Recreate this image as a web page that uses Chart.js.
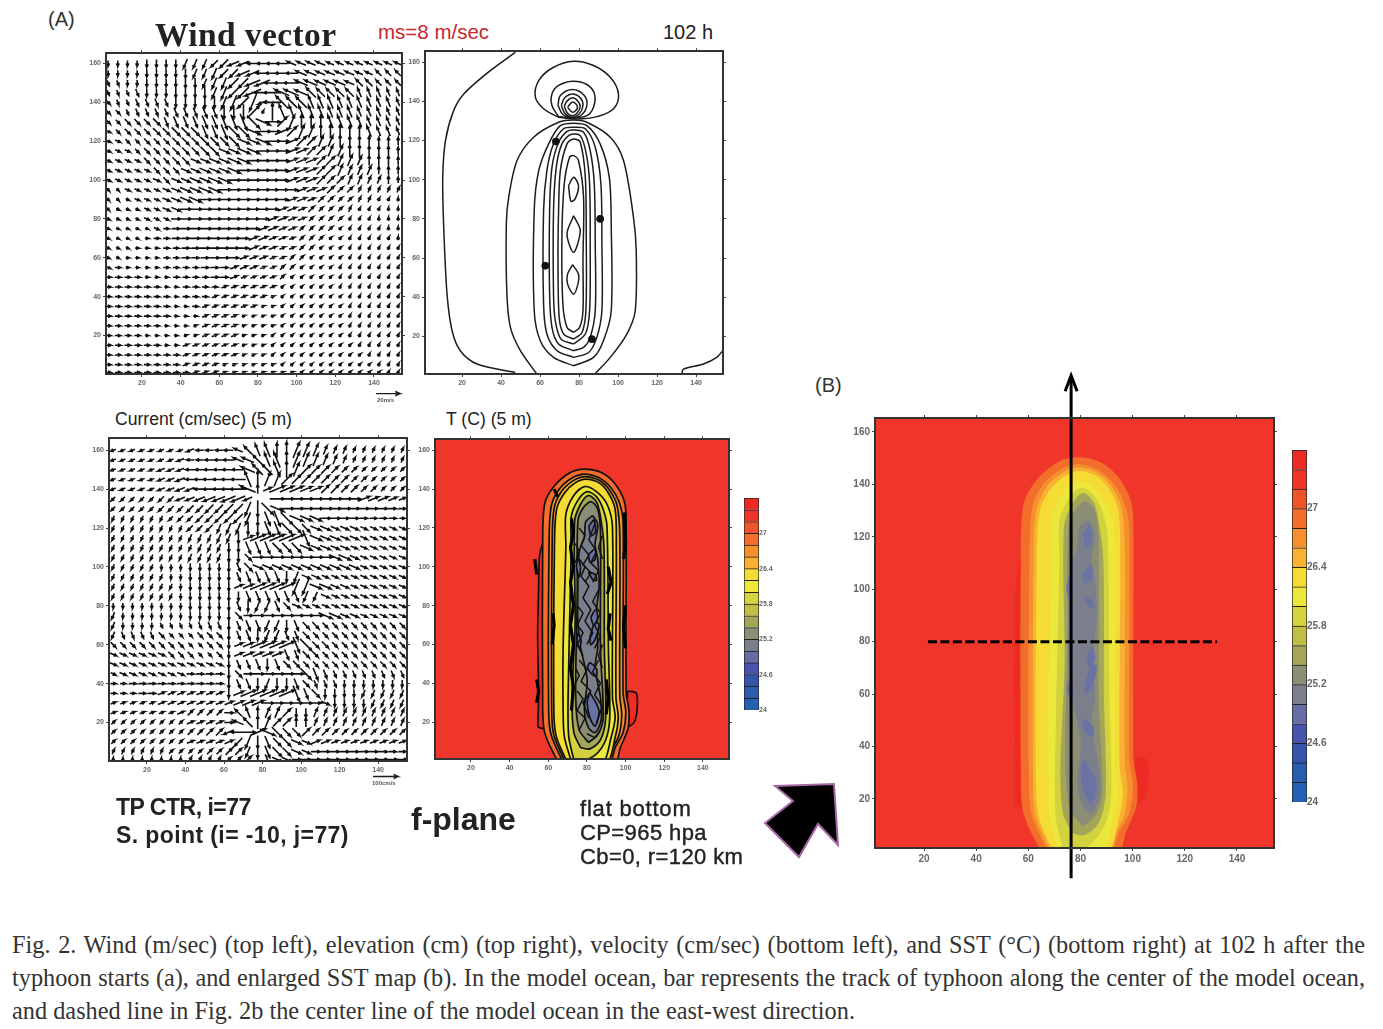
<!DOCTYPE html>
<html>
<head>
<meta charset="utf-8">
<title>Fig. 2</title>
<style>
html,body{margin:0;padding:0;background:#fff}
#page{position:relative;width:1383px;height:1029px;overflow:hidden;font-family:"Liberation Sans",sans-serif;color:#222}
#page canvas{position:absolute;filter:blur(.6px)}
.t{position:absolute;white-space:nowrap;line-height:1}
.tiny{font-size:6px;font-weight:bold;color:#555;filter:blur(.4px)}
.note{font-weight:bold;color:#222;filter:blur(.4px);transform-origin:0 0}
.cap{position:absolute;left:12px;width:1353px;margin:0;font:24.3px/1 "Liberation Serif",serif;color:#333;white-space:nowrap;text-align:justify;text-align-last:justify}
#bigArrow{position:absolute;left:760px;top:778px;filter:blur(.5px)}
</style>
<script src="https://cdn.jsdelivr.net/npm/chart.js@4"></script>
</head>
<body>
<div id="page">
  <div class="t" style="left:48px;top:9px;font-size:20px;color:#333">(A)</div>
  <div class="t" style="left:155px;top:16px;font:bold 33.5px 'Liberation Serif',serif;letter-spacing:.4px;color:#222;filter:blur(.4px)">Wind vector</div>
  <div class="t" style="left:378px;top:22px;font-size:20.5px;color:#c9252c">ms=8 m/sec</div>
  <div class="t" style="left:663px;top:22px;font-size:20px">102 h</div>
  <div class="t" style="left:115px;top:411px;font-size:17.6px">Current (cm/sec) (5 m)</div>
  <div class="t" style="left:446px;top:411px;font-size:17.6px">T (C) (5 m)</div>
  <div class="t" style="left:815px;top:375px;font-size:20px;color:#333">(B)</div>
  <div class="t tiny" style="left:377px;top:397px">20m/s</div>
  <div class="t tiny" style="left:372px;top:780px">100cm/s</div>
  <div class="t note" style="left:116px;top:796px;font-size:23px;letter-spacing:-.5px">TP CTR, i=77</div>
  <div class="t note" style="left:116px;top:824px;font-size:23px;letter-spacing:.4px">S. point (i= -10, j=77)</div>
  <div class="t note" style="left:411px;top:803px;font-size:32px">f-plane</div>
  <div class="t note" style="left:580px;top:798px;font-size:22px;font-weight:normal;-webkit-text-stroke:.4px #222;letter-spacing:.8px">flat bottom</div>
  <div class="t note" style="left:580px;top:822px;font-size:22px;font-weight:normal;-webkit-text-stroke:.4px #222;letter-spacing:.4px">CP=965 hpa</div>
  <div class="t note" style="left:580px;top:846px;font-size:22px;font-weight:normal;-webkit-text-stroke:.4px #222;letter-spacing:.4px">Cb=0, r=120 km</div>
  <svg id="bigArrow" width="90" height="90"><polygon points="15,8 74,6 78,67 58,46 39,79 5,45 33,23" fill="#000" stroke="#a768a8" stroke-width="2"/></svg>
  <p class="cap" style="top:933px">Fig. 2. Wind (m/sec) (top left), elevation (cm) (top right), velocity (cm/sec) (bottom left), and SST (°C) (bottom right) at 102 h after the</p>
  <p class="cap" style="top:966px">typhoon starts (a), and enlarged SST map (b). In the model ocean, bar represents the track of typhoon along the center of the model ocean,</p>
  <p class="cap" style="top:999px;width:843px">and dashed line in Fig. 2b the center line of the model ocean in the east-west direction.</p>
</div>
<script>
// grid of the vector panels
const gridX = [2.5,7.5,12.5,17.5,22.5,27.5,32.5,37.5,42.5,47.5,52.5,57.5,62.5,67.5,72.5,77.5,82.5,87.5,92.5,97.5,102.5,107.5,112.5,117.5,122.5,127.5,132.5,137.5,142.5,147.5,152.5];
const gridY = [160,155,150,145,140,135,130,125,120,115,110,105,100,95,90,85,80,75,70,65,60,55,50,45,40,35,30,25,20,15,10,5,1];

// direction code per grid cell: 16 sectors counter clockwise from east (0=E 4=N 8=W C=S)
const windDir = [
"CCCCCCCCBBBAA998888777777777777",
"CCCCCCCCCBBBAA99888877777777666",
"DDCCCCCCCCBBBAA9988877777766666",
"DDDDCCCCCCCBBAA9887776666655555",
"EDDDDDDCCCCCBBAB986665555555555",
"EEDDDDDDDDDDCCC2345555555555555",
"EEEEEEDDDDDDDDDEF02344455555555",
"FEEEEEEEEEDDDEEF001233444445555",
"FFEEEEEEEEEEEEFFF00122334444444",
"FFFEEEEEEEEEFFFF000112233444444",
"FFFFEEEEEFFFFFF0000111223334444",
"FFFFFEEEFFFFFF00000111223333444",
"FFFFFFEFFFFFF000000111222333344",
"EEFFFFFFFFFF0000000011122233333",
"EEFFFFFFFF000000000111222233334",
"EFFFFFFF00000000001112222333344",
"FFFFFFF000000000011112222333444",
"FFFFFF0000000000111122222333344",
"FFFF000000000001111122222333334",
"FFF0000000000001111122222333333",
"FF00000000000011111222222333333",
"F000000000000111112222223333333",
"0000000000000111112222223333333",
"0000000000001111112222223333333",
"0000000000011111112222222333333",
"0000000000111111112222222333333",
"0000000000111111112222222333333",
"0000000001111111112222222333333",
"0000000011111111122222222333333",
"0000000011111111122222222233333",
"0000000011111111122222222223333",
"0000000011111111112222222222333",
"0000000001111111111122222222233"
];
// arrow length digit per grid cell
const windLen = [
"3333444455556666666555544444444",
"3333444455566677777666555544444",
"3333444455566778888877666555444",
"3334444555667789998877666655544",
"3334444555667889599887776665554",
"3334444555667789298777766655544",
"3344455666778899887777777665554",
"3344455666778888888777777666554",
"3333444555666777887776666555444",
"3333444555666677777766666665554",
"3333444555566777777666666655554",
"3333344455666777766666666555444",
"3333344556677777766666655554443",
"2233334566777777766655554433333",
"2223334567777777666554443333222",
"2222334567777776665544333322222",
"2222333567777766655443333222222",
"2222233456777766554433332222222",
"2222233445666655544333322222222",
"2222223344555555443333222222222",
"2222223344455544433332222222222",
"3322223333444444333322222222222",
"3333222333344433333222222222222",
"3333332233333333332222222222222",
"3333333233333333322222222222222",
"3333333223333333222222222222222",
"3333333222333322222222222222222",
"3333332222333322222222222222222",
"3333222222333322222222222222222",
"3333332233333322222222222222222",
"3333333333333322222222222222222",
"3333333333332222222222222222222",
"3333333333332222222222222222222"
];
const currentDir = [
"9999999998888765544333333333333",
"9999999988888776554333333333333",
"9999999988888876654322222222222",
"9999999988888854332222222222222",
"9999999998888874111111222222222",
"AAAAAAA999999990000000000011111",
"AAAAAAAAAAAAAABCEF0000000000000",
"BBBBBBAAAAAAAABCDDEFFF000000000",
"BBBBBBBBAAABBBCCDDEEEFFFFFFFFFF",
"BBBBBBBBBBBBBC111111DFFFFFFFFFF",
"BBBBBBBBBBBBCCDDDEEEFFFFFFFFFFF",
"BBBBBBBBBBBBCCE00000000FFFFFFFF",
"BBBBBCCCCCCCCDEFFFFFFFFFFFFFFFF",
"BBBBBBCCCCCCCDDDDDCBFFFFFFFFFFF",
"BBBBBBBCCCCCC111111BBFFFFFFFFFF",
"BBBBBBBCCCCCCCDDDDDDBBFFFFFFFFF",
"CCCCCCCCCCCCCDCBBDEFFFFFFFFFFFF",
"BCCCCCCCCCCCCE00000000FFFFFFFFF",
"BCCCCDDDDDDDCDDDBBCDEEEEEEEEEEE",
"BDDDDEEEEEEECDDCBBDDEEEEEEEEEEE",
"EEEEEEEEEEEEC111111DEEEEEEEEEEE",
"FFFFFFEEEEEEC11111DDEEEEEEEEEEE",
"FFFFFFFFFFFFCDDDCDEEEEEEEEEEEEE",
"FFFFFFFF0000CE000000EDDDDDDDDDD",
"000000000000CDDCBCCDEDDDCCCCCCC",
"000001111111C111111DDECCCCBBBBB",
"1111111111111111000000FCCCCBBBB",
"1111111122220654332CC3333333333",
"2222222211110764322443333333333",
"2222222222229801FEEE22222222222",
"2222222211111ABCDEEFF1111111111",
"33333322222222BCDEEFF0000000000",
"444444443333222CDFF000000000000"
];
const currentLen = [
"3333333344445567889987544333333",
"3333333444556677899987654333333",
"3333344455667788899876654433333",
"3333344556778899888776655443333",
"3333344556778995598877665544333",
"3333344556778850088888888776654",
"3333344455667789988888877665544",
"3333333445566778899877665544443",
"3333333344556678888766655544444",
"3333333344455669999997665544444",
"3333333334445577777776655444444",
"3333333344445556788888877544444",
"3333333344445566666666666644444",
"3333333344444566666655444444444",
"3333333344445569999997755444444",
"3333333344445566666665544444444",
"3333333344445566665544444444444",
"4333333344445557888888875544444",
"4333333334445566666655444444444",
"4444443334445566665554444444444",
"4444444433444569999995544444444",
"4444444443344566666554444444444",
"4444444444444556665544444444444",
"3444444444445557888887544444444",
"3344444444445566666654444444444",
"3334444444445699999966554444444",
"3333344444445677777776544444444",
"3333333444445566666555444444444",
"3333333344445677766554444444444",
"3333333344556889986665544444444",
"3333333344445677766655544444444",
"3333333333445567776655555555544",
"2222222233333456666555555555555"
];
const windRef = [[141,-9.9],[153.5,-9.9],[151,-8.8],[153.5,-9.9],[151,-11]];
const currentRef = [[137.4,-7.8],[150.4,-7.8],[148,-6.7],[150.4,-7.8],[148,-8.9]];

// elevation contours
const elevOpenLeft = [[47.3,165],[34.5,155.7],[20.9,143.8],[15.7,135.3],[11.5,120],[10.1,101.2],[10.6,75.7],[12.3,41.6],[14.9,22.9],[19.1,12.7],[27.7,5.9],[47.3,1.6]];
const elevOpenOval = [[58.1,1.1],[49.9,12.7],[44.8,24.6],[43,41.6],[42.7,77.4],[43.9,91],[48.2,109.8],[56.7,121.7],[69.5,129.3],[77.2,130.5],[84,129.3],[96,121.7],[102.8,109.8],[107.9,80.8],[109.3,63.8],[108.8,33.1],[104.5,21.2],[96,9.3],[88.3,1.1]];
const elevOpenCorner = [[132.7,1.1],[133.5,3.3],[143.8,5.9],[150.6,9.3],[153.7,12.7]];
const elevLobes = [
  [[69.4,131.9],[61.8,136.2],[57.6,142.1],[59.3,150.6],[66.9,157.4],[77.2,160.5],[87.4,158.3],[96,152.3],[100.2,143.8],[97.7,136.2],[89.1,132.2],[78.4,131]],
  [[69.5,132.2],[66.1,137.9],[66.1,143.8],[69.5,148.1],[76.7,150.3],[84,148.6],[87.9,143.8],[87.4,137],[84,132.7],[76.7,131.6]],
  [[69.2,137.9],[70.4,143],[76.7,146],[82.7,143],[84,137.9],[81.5,133.3],[76.7,131.6],[71.7,133.3]],
  [[70.9,137.9],[72.6,141.8],[76.7,143.8],[80.6,141.8],[82,137.9],[80.1,133.6],[76.7,131.9],[72.9,133.6]],
  [[72.4,137.4],[73.8,140.1],[76.7,141.8],[79.4,140.1],[80.6,137.4],[78.9,133.9],[76.7,132.6],[74.1,133.9]],
  [[74.1,137],[76.7,139.7],[79.2,137],[76.7,134.4]]
];
const elevOvals = [
  [[77.2,5],[66.9,9.3],[60.1,17.8],[57,33.1],[57,84.2],[59.3,104.6],[64.4,118.3],[70.4,127.6],[77.2,128.8],[84,127.6],[90.8,118.3],[95.5,101.2],[96.5,75.7],[96.5,33.1],[92.5,17.8],[87.4,9.3]],
  [[77.2,9.3],[68.7,12.7],[63.5,21.2],[61.8,36.5],[61.8,84.2],[63.5,104.6],[66.9,118.3],[72,126],[77.2,126.8],[83.2,126],[88.3,116.6],[91.2,97.8],[91.7,67.2],[91.7,33.1],[89.1,19.5],[84.9,11.8]],
  [[77.2,12.7],[69.5,16.1],[66.1,24.6],[64.9,41.6],[64.9,84.2],[66.1,106.3],[69.5,119.1],[73.8,124.7],[77.2,125.4],[82.3,124.2],[85.7,114.9],[87.8,97.8],[88.3,67.2],[88.3,33.1],[85.7,19.5],[82.3,14.4]],
  [[77.2,16.1],[70.7,18.6],[67.8,28],[66.9,41.6],[66.9,84.2],[68.3,106.3],[71.2,118.3],[75.5,123],[80.6,122.5],[83.7,113.2],[85.4,97.8],[85.7,67.2],[85.4,33.1],[83.2,21.2]],
  [[77.2,18.6],[72.1,21.2],[69.8,29.7],[69.2,58.7],[69.5,84.2],[70.4,104.6],[73.8,118.3],[77.2,120.8],[80.6,119.1],[83.2,101.2],[83.7,67.2],[83.5,33.1],[81.5,22]],
  [[77.2,22],[73.8,24.6],[71.7,36.5],[71.2,70.6],[72.4,97.8],[75.1,111.5],[77.2,112.3],[79.7,109.8],[82.3,91],[82,58.7],[82,33.1],[80.3,24.6]],
  [[74.6,97],[77.2,101.2],[79.7,97],[78,90.2],[75.8,89]],
  [[77.2,81.6],[80.6,74],[77.2,62.9],[73.8,72.3]],
  [[76.7,56.6],[79.7,51.8],[79.4,46.7],[77.2,41.6],[74.1,46.7],[74.1,51.8]]
];
const elevDots = [[68.1,119.5],[90.8,80],[62.7,56.1],[86.6,18.6]];

// SST colour scale, low to high
const sstLevels = [24,24.2,24.4,24.6,24.8,25,25.2,25.4,25.6,25.8,26,26.2,26.4,26.6,26.8,27,27.2,27.4,27.6];
const sstTicks = [24,24.6,25.2,25.8,26.4,27];
const sstColors = ['#2560b4','#2a5cb0','#3555ad','#4655ab','#676ca4','#7b7f8c','#8b8e74','#a5a55a','#bfbf45','#d5d43d','#ebe83b','#f4dc35','#f8b131','#f68f2d','#f36e2b','#f15427','#ef3528','#ee2a25'];

// SST contours, outer to inner, and the colour inside each
const sstDomain = [[0,0],[156,0],[156,168],[0,168]];
const sstStripLeft = [[54.6,17.4],[55,35],[54.5,65],[55,88],[55.5,106],[57.5,112],[58,17]];
const sstStripRight = [[101,36],[105.5,35],[106,27],[104.5,20],[101,18]];
const sstBand1 = [[65.7,-2],[58.1,14.7],[57.1,32.7],[57.1,110.3],[58.1,132.2],[62.9,141.3],[71.2,148.4],[78.7,150.3],[87.7,148.4],[94.6,142.6],[99.4,133.5],[100.3,123.2],[100.3,35.3],[101.7,26.3],[101.4,17.2],[97.3,6.9],[93.9,-2]];
const sstBand2 = [[68.4,-2],[61.5,13.4],[60.2,26.3],[60.4,110.3],[61.5,130.9],[65.7,140],[72.5,145.8],[78.7,147.7],[86.3,145.8],[92.5,140.6],[96.6,133.5],[98.7,123.2],[98.7,35.3],[100.1,25],[98.7,14.7],[94.6,6.9],[91.1,-2]];
const sstBand2b = [[69.5,-2],[63,12.8],[61.8,25.5],[62,110.3],[63,130],[67,139],[73.2,144.5],[79,146.4],[86.3,144.5],[91.8,139.3],[95.6,131.5],[97,116],[97,34],[98,23.5],[96.6,13.4],[92,4],[90.4,-2]];
const sstBand3 = [[70.5,-2],[64.3,12.1],[62.9,25],[63.2,110.3],[64.3,129.6],[68.4,138],[73.9,143.2],[79.4,145.1],[86.3,143.2],[91.1,138],[94.6,129.6],[95.2,110.3],[95,32.7],[96.2,22.4],[94.6,12.1],[89.7,-2]];
const sstBand4 = [[72.5,-2],[68.4,12.1],[67.7,25],[67.7,58.6],[69.1,110.3],[69.1,127],[73.2,136.7],[78.7,141.3],[84.9,138.7],[90.4,132.2],[93.2,120.6],[93.2,32.7],[94.6,22.4],[92.5,12.1],[87.7,-2]];
const sstBand5 = [[73.9,-2],[70.5,13.4],[70.5,45.7],[71.9,110.3],[71.9,125.8],[75.3,134.2],[80.1,138.7],[84.9,136.1],[88.4,129.6],[90.4,120.6],[91.1,58.6],[91.8,22.4],[89.7,10.8],[84.2,3]];
const sstBand6 = [[76.7,6.9],[73.2,14.7],[72.3,32.7],[73.9,71.5],[73.6,123.2],[76.7,132.2],[80.8,136.7],[84.9,133.5],[87,125.8],[88.8,110.3],[89,58.6],[89.7,22.4],[87,10.8],[81.5,6.2]];
const sstBand7 = [[80.8,9.5],[76,16],[74.2,32.7],[75,84.4],[75.3,123.2],[78,130.3],[82.2,133.5],[85.6,129.6],[87,118],[87,58.6],[88.4,22.4],[85.6,13.4]];
const sstBand8 = [[82.9,126.4],[85.6,121.9],[84.2,111.5],[85.6,103.8],[86.3,89.6],[84.9,76.7],[85.6,58.6],[84.2,48.2],[87,32.7],[87.4,21.1],[84.2,14.6],[80.8,17.2],[78.7,26.3],[80.1,41.8],[76.7,58.6],[75.3,71.5],[75.3,89.6],[76,107.7],[78.7,115.4],[79.4,123.2]];
const sstBlobs = [
  [[81.5,35.3],[84.9,29.5],[86.3,25],[84.2,17.9],[81.5,22.4],[80.1,30.2]],
  [[81.5,50.8],[84.9,47.6],[84.9,43.7],[82.9,44.4],[80.3,48.2]],
  [[81.5,63.7],[84.2,71.5],[86.3,70.2],[84.2,62.5],[82,59.9]],
  [[82,74],[84.6,78],[85.5,73],[83.4,70]],
  [[80.8,97.3],[84.2,96],[85,93],[82.9,93.5]],
  [[80.8,106.4],[84.2,109],[84.2,103.8],[81.5,102.5]],
  [[81,121],[83.6,124],[84.4,118],[82,116]],
  [[75.3,105],[76.7,100],[76,94.8],[74.6,100]],
  [[75.5,66],[77,62],[76,58],[74.8,62]]
];
const sstBands = [sstStripLeft,sstStripRight,sstBand1,sstBand2,sstBand2b,sstBand3,sstBand4,sstBand5,sstBand6,sstBand7,sstBand8];
const sstBandColors = ['#ee2a25','#ee2a25','#f36e2b','#f68f2d','#f8b131','#f4dc35','#ebe83b','#d2d13e','#a5a55a','#8b8e74','#7b7f8c'];
const sstBlobColor = '#6b72a4';
// black jagged walls of the 5 m map
const tWalls = [
  [[72,125],[73,118],[71.5,110],[73,100],[71.5,92],[73,80],[71.5,70],[73,60],[71.5,48],[73,38],[72,26]],
  [[99.5,128],[100,112],[99,104]],
  [[100,80],[99,70],[100,58]],
  [[62.5,76],[63,70],[62,60]],
  [[91,100],[92.5,92],[90.5,86]],
  [[92,76],[91,68],[92.5,62]],
  [[90,42],[91,32],[90,24]],
  [[53,104],[54,96]],
  [[54,42],[55,36],[54,30]],
  [[63,140],[65,136]]
];
const tJags = [
  [[76,120],[79,116],[77,111],[81,106],[78,101],[82,97],[79,92]],
  [[84,122],[81,114],[85,108],[82,102],[86,98],[83,92]],
  [[76,104],[79,100],[77,95],[81,90],[78,84],[82,78],[79,72],[83,66],[80,60]],
  [[86,88],[83,82],[87,76],[84,70],[87,64],[84,58]],
  [[75,80],[78,76],[75,70],[78,66],[75,60],[78,54]],
  [[76,52],[80,47],[77,41],[82,36],[78,30],[81,22]],
  [[86,52],[83,46],[87,40],[84,34],[88,28],[85,20]],
  [[75,36],[78,32],[75,26],[79,22],[76,16]],
  [[74,112],[76,108],[74,102]],
  [[88,116],[86,110],[88,104]],
  [[74,48],[76,44],[74,40]],
  [[80,14],[84,12],[87,16]],
  [[88,60],[86,54],[88,48]]
];
// track arrow and centre line of panel B
const trackLine = [[76.4,-10.2],[76.4,181]];
const trackHead = [[74.1,175.5],[76.4,181.5],[78.7,175.5]];
const centreLine = [[21.5,80],[132.3,80]];

const ink = '#1c1c1c';
const toPts = a => a.map(p=>({x:p[0],y:p[1]}));
const closed = a => toPts(a.concat([a[0]]));

function quiver(dirRows, lenRows, scaleLen){
  let pts=[];
  dirRows.forEach((d,r)=>{
    let l=lenRows[r];
    gridX.forEach((x,c)=>{
      if(c>=d.length || c>=l.length) return;
      let n=parseInt(l[c],16);
      if(!n) return;
      let a=parseInt(d[c],16)*Math.PI/8;
      let len=n*scaleLen, y=gridY[r];
      let tx=x+Math.cos(a)*len/2, ty=y+Math.sin(a)*len/2;
      pts.push({x:x-Math.cos(a)*len/2,y:y-Math.sin(a)*len/2},{x:tx,y:ty});
      pts.push({x:tx+Math.cos(a+2.7)*1.7,y:ty+Math.sin(a+2.7)*1.7},{x:tx,y:ty});
      pts.push({x:tx+Math.cos(a-2.7)*1.7,y:ty+Math.sin(a-2.7)*1.7});
      pts.push({x:NaN,y:NaN});
    });
  });
  return pts;
}

const lineSet = (data,extra) => Object.assign({data,showLine:true,fill:false,pointRadius:0,borderColor:ink,borderWidth:1.5,tension:0,spanGaps:false},extra);

function addCanvas(box,m){
  const c=document.createElement('canvas');
  c.width=box.r-box.l+m.l+m.r;
  c.height=box.b-box.t+m.t+m.b;
  c.style.left=(box.l-m.l)+'px';
  c.style.top=(box.t-m.t)+'px';
  document.getElementById('page').appendChild(c);
  return c;
}

function panel(box, xr, yr, m, tickSize, datasets){
  const c=addCanvas(box,m);
  datasets.forEach((d,i)=>{d.order=-i;});
  const font={family:'"Liberation Sans",sans-serif',size:tickSize,weight:'bold'};
  const base=(min,max,pos,show,size)=>({
    type:'linear',min,max,position:pos,
    ticks:{display:show,stepSize:20,includeBounds:false,autoSkip:false,maxRotation:0,font,color:'#666',padding:2},
    grid:{drawOnChartArea:false,tickLength:3,color:'#444'},
    border:{display:true,color:'#333',width:2,z:1},
    afterFit:s=>{ if(pos==='top'||pos==='bottom') s.height=size; else s.width=size; }
  });
  return new Chart(c,{
    type:'scatter',
    data:{datasets},
    options:{
      responsive:false,animation:false,
      layout:{padding:0},
      plugins:{legend:{display:false},tooltip:{enabled:false},filler:{drawTime:'beforeDatasetDraw'}},
      scales:{
        x:base(xr[0],xr[1],'bottom',true,m.b),
        x2:base(xr[0],xr[1],'top',false,m.t),
        y:base(yr[0],yr[1],'left',true,m.l),
        y2:base(yr[0],yr[1],'right',false,m.r)
      }
    }
  });
}

function colorbar(box, m, tickSize){
  const c=addCanvas(box,m);
  return new Chart(c,{
    type:'bar',
    data:{
      labels:['SST'],
      datasets:sstColors.map((col,i)=>({
        data:[[sstLevels[i],sstLevels[i+1]]],
        backgroundColor:col,borderColor:'#222',borderWidth:1,
        barPercentage:1,categoryPercentage:1,grouped:false
      }))
    },
    options:{
      responsive:false,animation:false,
      layout:{padding:{left:m.l,top:m.t,bottom:m.b,right:0}},
      plugins:{legend:{display:false},tooltip:{enabled:false}},
      scales:{
        x:{display:false},
        y:{
          position:'right',min:24,max:27.6,
          afterBuildTicks:s=>{s.ticks=sstTicks.map(v=>({value:v}));},
          ticks:{autoSkip:false,padding:0,font:{family:'"Liberation Sans",sans-serif',size:tickSize,weight:'bold'},color:'#666',callback:v=>v},
          grid:{drawOnChartArea:false,drawTicks:false},
          border:{display:false},
          afterFit:s=>{s.width=m.r;}
        }
      }
    }
  });
}

const small={l:24,r:6,t:6,b:30};

function sstSets(outlined){
  const edge = outlined ? {borderColor:'#111',borderWidth:1.7} : {borderWidth:0};
  let sets=[lineSet(closed(sstDomain),{fill:'shape',backgroundColor:'#f0352a',borderWidth:0})];
  sstBands.forEach((b,i)=>sets.push(lineSet(closed(b),Object.assign({fill:'shape',backgroundColor:sstBandColors[i],tension:.3},edge))));
  sstBlobs.forEach(b=>sets.push(lineSet(closed(b),Object.assign({fill:'shape',backgroundColor:sstBlobColor,tension:.3},edge))));
  return sets;
}

// wind vectors
panel({l:106,r:402,t:53,b:374},[1.4,154.5],[0.2,165.3],small,7,[
  lineSet(quiver(windDir,windLen,1.0),{borderWidth:1.6,borderColor:'#111'}),
  lineSet(toPts(windRef),{clip:false,borderWidth:1.4})
]);

// elevation
panel({l:425,r:723,t:51,b:374},[1,153.8],[0.8,165.6],small,7,[
  lineSet(toPts(elevOpenLeft),{tension:.3}),
  lineSet(toPts(elevOpenOval),{tension:.3}),
  lineSet(toPts(elevOpenCorner),{tension:.3})
].concat(elevLobes.map(a=>lineSet(closed(a),{tension:.4})),
         elevOvals.map(a=>lineSet(closed(a),{tension:.3})),
         [{data:toPts(elevDots),pointRadius:3.5,backgroundColor:'#111',borderColor:'#111',showLine:false}]));

// currents
panel({l:109,r:407,t:438,b:761},[0.3,155],[0.2,166.2],small,7,[
  lineSet(quiver(currentDir,currentLen,.95),{borderWidth:1.6,borderColor:'#111'}),
  lineSet(toPts(currentRef),{clip:false,borderWidth:1.4})
]);

// temperature at 5 m
panel({l:435,r:729,t:439,b:759},[1.4,153.5],[1,165.7],small,7,
  sstSets(true).concat(
    tWalls.map(a=>lineSet(toPts(a),{borderColor:'#000',borderWidth:3.2})),
    tJags.map(a=>lineSet(toPts(a),{borderColor:'#111',borderWidth:1.5}))
  )
);
colorbar({l:744,r:759,t:498,b:710},{l:2,r:20,t:8,b:8},7);

// enlarged SST
panel({l:875,r:1274,t:418,b:848},[1.2,154.2],[1.3,165.3],{l:30,r:10,t:55,b:38},10,
  sstSets(false).concat([
    lineSet(toPts(centreLine),{borderColor:'#000',borderWidth:3,borderDash:[9,3.5],clip:false}),
    lineSet(toPts(trackLine),{borderColor:'#000',borderWidth:3,clip:false}),
    lineSet(toPts(trackHead),{borderColor:'#000',borderWidth:3,clip:false})
  ])
);
colorbar({l:1292,r:1307,t:450,b:802},{l:2,r:24,t:10,b:10},10);
</script>
</body>
</html>
